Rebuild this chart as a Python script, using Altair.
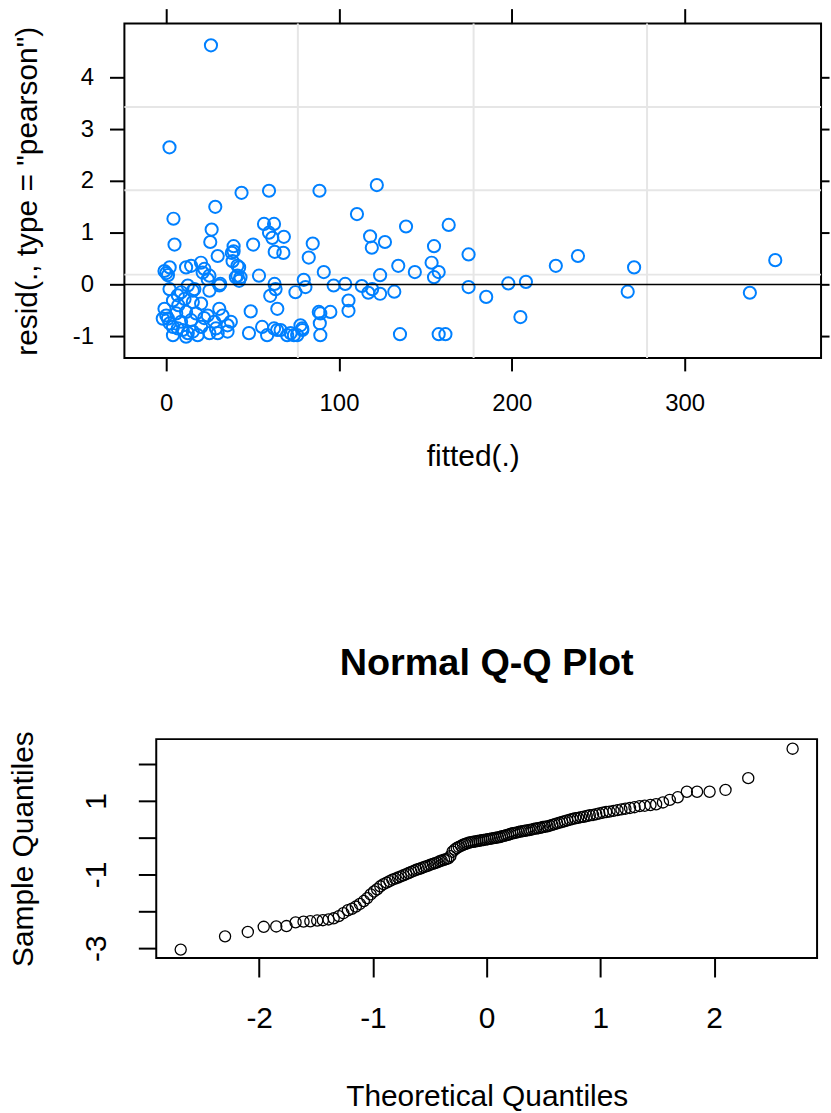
import altair as alt
import pandas as pd

FONT = "Liberation Sans"

# ---- top panel: Pearson residuals vs fitted values ----
fitted = [25.9, 1.9, 4.2, 4.8, 28.4, 43.6, 59.5, 88.7, 121.9, 110.4,
          138.8, 26.3, 25.5, 29.8, 39.0, 38.0, 50.3, 56.6, 62.4, 59.5,
          61.4, 68.1, 62.8, 67.8, 84.8, 82.5, 91.2, 118.0, 119.0, 126.6,
          134.3, 123.8, 143.9, 163.5, 155.0, 175.0, 153.6, 157.7, 155.0, 225.5,
          238.3, 270.8, 352.5, 175.0, 185.2, 198.0, 208.2, 205.0, 267.1, 337.8,
          132.0, 135.3, 157.7, 161.6, 79.6, 80.6, 74.8, 96.9, 103.6, 113.2,
          117.0, 123.8, 119.2, 63.3, 64.3, 105.5, 105.5, 88.3, 95.0, 88.9,
          89.2, 62.4, 66.2, 72.0, 75.8, 78.7, 77.7, 39.0, 38.4, 42.2,
          41.2, 42.2, 53.7, -1.0, 1.0, 2.0, 0.0, 11.5, 20.1, 21.1,
          25.0, 31.3, 25.0, 1.9, 12.5, 15.4, 6.7, 8.6, 16.3, 30.8,
          48.9, 60.2, 62.7, 89.2, 58.4, 55.5, 47.9, 64.2, 70.0, 78.8,
          73.9, 3.9, 10.6, 15.4, 20.2, 0.0, 5.8, 11.5, 17.3, 1.0,
          8.6, 14.4, 24.0, 30.7, 32.6, 37.4, 3.9, 9.6, 15.4, 20.2,
          25.0, 28.8, 35.5, 3.9, 11.5, 18.2, -1.0, -2.0, 6.7, 12.5,
          29.8, 35.5, 40.3, 43.0, 22.1, 14.4, 24.0, 41.2, 27.8, 22.0,
          7.0, 2.0]
resid = [4.62, 2.65, 1.27, 0.77, 1.50, 1.77, 1.81, 1.81, 1.92, 1.36,
         1.12, 1.06, 0.82, 0.55, 0.74, 0.61, 0.77, 1.17, 1.17, 1.00,
         0.90, 0.92, 0.63, 0.61, 0.79, 0.52, 0.24, 0.93, 0.71, 0.82,
         0.36, 0.18, 0.24, 1.15, 0.74, 0.58, 0.42, 0.24, 0.14, 0.36,
         0.55, 0.33, 0.47, -0.05, -0.24, 0.02, 0.05, -0.63, -0.14, -0.16,
         -0.14, -0.96, -0.96, -0.96, 0.09, -0.05, -0.15, -0.02, 0.01, -0.03,
         -0.16, -0.18, -0.09, -0.09, -0.47, -0.31, -0.51, -0.53, -0.53, -0.75,
         -0.98, -0.85, -0.88, -0.94, -0.98, -0.85, -0.79, 0.64, 0.45, 0.33,
         0.17, 0.07, 0.17, 0.26, 0.18, 0.33, 0.22, 0.33, 0.42, 0.23,
         0.17, 0.01, -0.12, -0.09, -0.02, -0.12, -0.21, -0.15, -0.09, -0.02,
         -0.52, -0.22, 0.01, -0.56, -0.98, -0.82, -0.94, -0.88, -0.98, -0.88,
         -0.98, -0.31, -0.28, -0.34, -0.37, -0.60, -0.56, -0.53, -0.56, -0.66,
         -0.72, -0.69, -0.60, -0.47, -0.60, -0.72, -0.82, -0.88, -0.91, -0.82,
         -0.94, -0.85, -0.79, -0.98, -1.01, -0.98, -0.47, -0.66, -0.85, -0.94,
         -0.94, -0.91, 0.14, 0.14, 0.30, 0.36, 0.10, 0.36, -0.72, -0.65,
         -0.40, -0.75]
grid_x = [76.2, 177.9, 278.3]
grid_y = [0.19, 1.82, 3.43]
zero_line = [0]
top_x_ticks = [0, 100, 200, 300]
top_y_ticks = [-1, 0, 1, 2, 3, 4]

# ---- bottom panel: normal Q-Q plot ----
theoretical = [-2.69, -2.30, -2.10, -1.96, -1.85, -1.76, -1.68, -1.61, -1.55, -1.49,
               -1.44, -1.39, -1.345, -1.30, -1.26, -1.22, -1.185, -1.15, -1.115, -1.08,
               -1.05, -1.02, -0.99, -0.963, -0.935, -0.907, -0.88, -0.854, -0.829, -0.804,
               -0.779, -0.755, -0.732, -0.708, -0.686, -0.663, -0.641, -0.619, -0.598, -0.577,
               -0.555, -0.535, -0.514, -0.494, -0.473, -0.454, -0.434, -0.414, -0.395, -0.375,
               -0.356, -0.337, -0.319, -0.300, -0.281, -0.263, -0.245, -0.226, -0.208, -0.189,
               -0.171, -0.153, -0.135, -0.117, -0.099, -0.081, -0.063, -0.045, -0.027, -0.009,
               0.009, 0.027, 0.045, 0.063, 0.081, 0.099, 0.117, 0.135, 0.153, 0.171,
               0.189, 0.208, 0.226, 0.245, 0.263, 0.281, 0.300, 0.319, 0.337, 0.356,
               0.375, 0.395, 0.414, 0.434, 0.454, 0.473, 0.494, 0.514, 0.535, 0.555,
               0.577, 0.598, 0.619, 0.641, 0.663, 0.686, 0.708, 0.732, 0.755, 0.779,
               0.804, 0.829, 0.854, 0.88, 0.907, 0.935, 0.963, 0.99, 1.02, 1.05,
               1.08, 1.115, 1.15, 1.185, 1.22, 1.26, 1.30, 1.345, 1.39, 1.44,
               1.49, 1.55, 1.61, 1.68, 1.76, 1.85, 1.96, 2.10, 2.30, 2.69]
sample = [-3.04, -2.68, -2.56, -2.42, -2.41, -2.40, -2.30, -2.28, -2.27, -2.25,
          -2.24, -2.22, -2.19, -2.13, -2.05, -1.97, -1.93, -1.87, -1.80, -1.72,
          -1.64, -1.54, -1.46, -1.40, -1.32, -1.26, -1.22, -1.18, -1.14, -1.11,
          -1.08, -1.05, -1.02, -0.99, -0.96, -0.93, -0.90, -0.87, -0.85, -0.83,
          -0.80, -0.78, -0.76, -0.73, -0.71, -0.69, -0.67, -0.64, -0.62, -0.60,
          -0.58, -0.56, -0.50, -0.38, -0.32, -0.28, -0.25, -0.22, -0.19, -0.17,
          -0.15, -0.13, -0.12, -0.11, -0.10, -0.09, -0.08, -0.07, -0.06, -0.05,
          -0.04, -0.03, -0.02, -0.01, 0.00, 0.01, 0.02, 0.04, 0.05, 0.07,
          0.08, 0.10, 0.12, 0.13, 0.14, 0.16, 0.17, 0.18, 0.19, 0.20,
          0.21, 0.22, 0.24, 0.25, 0.26, 0.27, 0.29, 0.30, 0.31, 0.33,
          0.35, 0.37, 0.39, 0.41, 0.43, 0.45, 0.47, 0.49, 0.51, 0.53,
          0.54, 0.56, 0.57, 0.59, 0.61, 0.62, 0.64, 0.66, 0.68, 0.70,
          0.71, 0.73, 0.75, 0.77, 0.79, 0.81, 0.83, 0.86, 0.87, 0.89,
          0.91, 0.96, 1.03, 1.10, 1.25, 1.25, 1.25, 1.30, 1.62, 2.42]
qq_x_ticks = [-2, -1, 0, 1, 2]
qq_y_ticks = [-3, -2, -1, 0, 1, 2]

pts = pd.DataFrame({"fitted": fitted, "resid": resid})
gx = pd.DataFrame({"gx": grid_x})
gy = pd.DataFrame({"gy": grid_y})
zz = pd.DataFrame({"z": zero_line})
qq = pd.DataFrame({"theoretical": theoretical, "sample": sample})

common = dict(domain=False, grid=False, tickColor="black", labelColor="black",
              titleColor="black", labelFont=FONT, titleFont=FONT,
              titleFontWeight="normal", labelOverlap=False, labelFlush=False)

xs = alt.Scale(domain=[-24.2, 379.0], nice=False, zero=False)
ys = alt.Scale(domain=[-1.42, 5.04], nice=False, zero=False)

vgrid = alt.Chart(gx).mark_rule(color="#e6e6e6", strokeWidth=2).encode(
    x=alt.X("gx:Q", scale=xs,
            axis=alt.Axis(orient="bottom", values=top_x_ticks, tickSize=13, tickWidth=2,
                          labelFontSize=24, labelPadding=21, title="fitted(.)",
                          titleFontSize=30, titlePadding=26, **common)))
hgrid = alt.Chart(gy).mark_rule(color="#e6e6e6", strokeWidth=2).encode(
    y=alt.Y("gy:Q", scale=ys,
            axis=alt.Axis(orient="left", values=top_y_ticks, tickSize=15, tickWidth=2,
                          labelFontSize=24, labelPadding=16,
                          labelExpr="toString(datum.value)",
                          title='resid(., type = "pearson")', titleFontSize=30,
                          titlePadding=29.7, **common)))
points = alt.Chart(pts).mark_point(shape="circle", filled=False, color="#0080ff",
                                   size=150, strokeWidth=2, opacity=1).encode(
    x=alt.X("fitted:Q", scale=xs,
            axis=alt.Axis(orient="top", values=top_x_ticks, tickSize=15, tickWidth=2,
                          labels=False, title=None, **common)),
    y=alt.Y("resid:Q", scale=ys,
            axis=alt.Axis(orient="right", values=top_y_ticks, tickSize=8, tickWidth=2,
                          labels=False, title=None, **common)))
zero = alt.Chart(zz).mark_rule(color="black", strokeWidth=1.5).encode(
    y=alt.Y("z:Q", scale=ys, axis=None))

top = alt.layer(vgrid, hgrid, points, zero).resolve_axis(
    x="independent", y="independent").properties(width=700, height=336)

qxs = alt.Scale(domain=[-2.905, 2.905], nice=False, zero=False)
qys = alt.Scale(domain=[-3.27, 2.68], nice=False, zero=False)

bottom = alt.Chart(qq).mark_point(shape="circle", filled=False, color="black",
                                  size=125, strokeWidth=1.3, opacity=1).encode(
    x=alt.X("theoretical:Q", scale=qxs,
            axis=alt.Axis(orient="bottom", values=qq_x_ticks, tickSize=19, tickWidth=2,
                          labelFontSize=30, labelPadding=26.5,
                          labelExpr="toString(datum.value)",
                          title="Theoretical Quantiles", titleFontSize=30,
                          titlePadding=49, **common)),
    y=alt.Y("sample:Q", scale=qys,
            axis=alt.Axis(orient="left", values=qq_y_ticks, tickSize=18, tickWidth=2,
                          labelFontSize=30, labelAngle=270, labelAlign="center",
                          labelBaseline="bottom", labelPadding=26.7,
                          labelExpr="datum.value % 2 == 0 ? '' : toString(datum.value)",
                          title="Sample Quantiles", titleFontSize=30,
                          titlePadding=43.3, **common)),
).properties(
    width=664, height=220,
    title=alt.TitleParams("Normal Q-Q Plot", font=FONT, fontSize=38, fontWeight="bold",
                          color="black", anchor="middle", frame="group", offset=48))

# invisible layout spacer so the Q-Q frame sits to the right of the top frame
spacer = alt.Chart(pd.DataFrame({"s": [0]})).mark_point(opacity=0).encode(
    x=alt.X("s:Q", axis=None), y=alt.Y("s:Q", axis=None)
).properties(width=1, height=1, view=alt.ViewBackground(stroke="transparent"))

bottom_row = alt.hconcat(spacer, bottom, spacing=-123)

chart = alt.vconcat(top, bottom_row, spacing=172,
                    padding={"left": 7, "top": 4, "right": 0, "bottom": 0},
                    background="white").configure(font=FONT).configure_view(
    stroke="black", strokeWidth=2)

chart.save("out.html", embed_options={"renderer": "svg", "actions": False})
